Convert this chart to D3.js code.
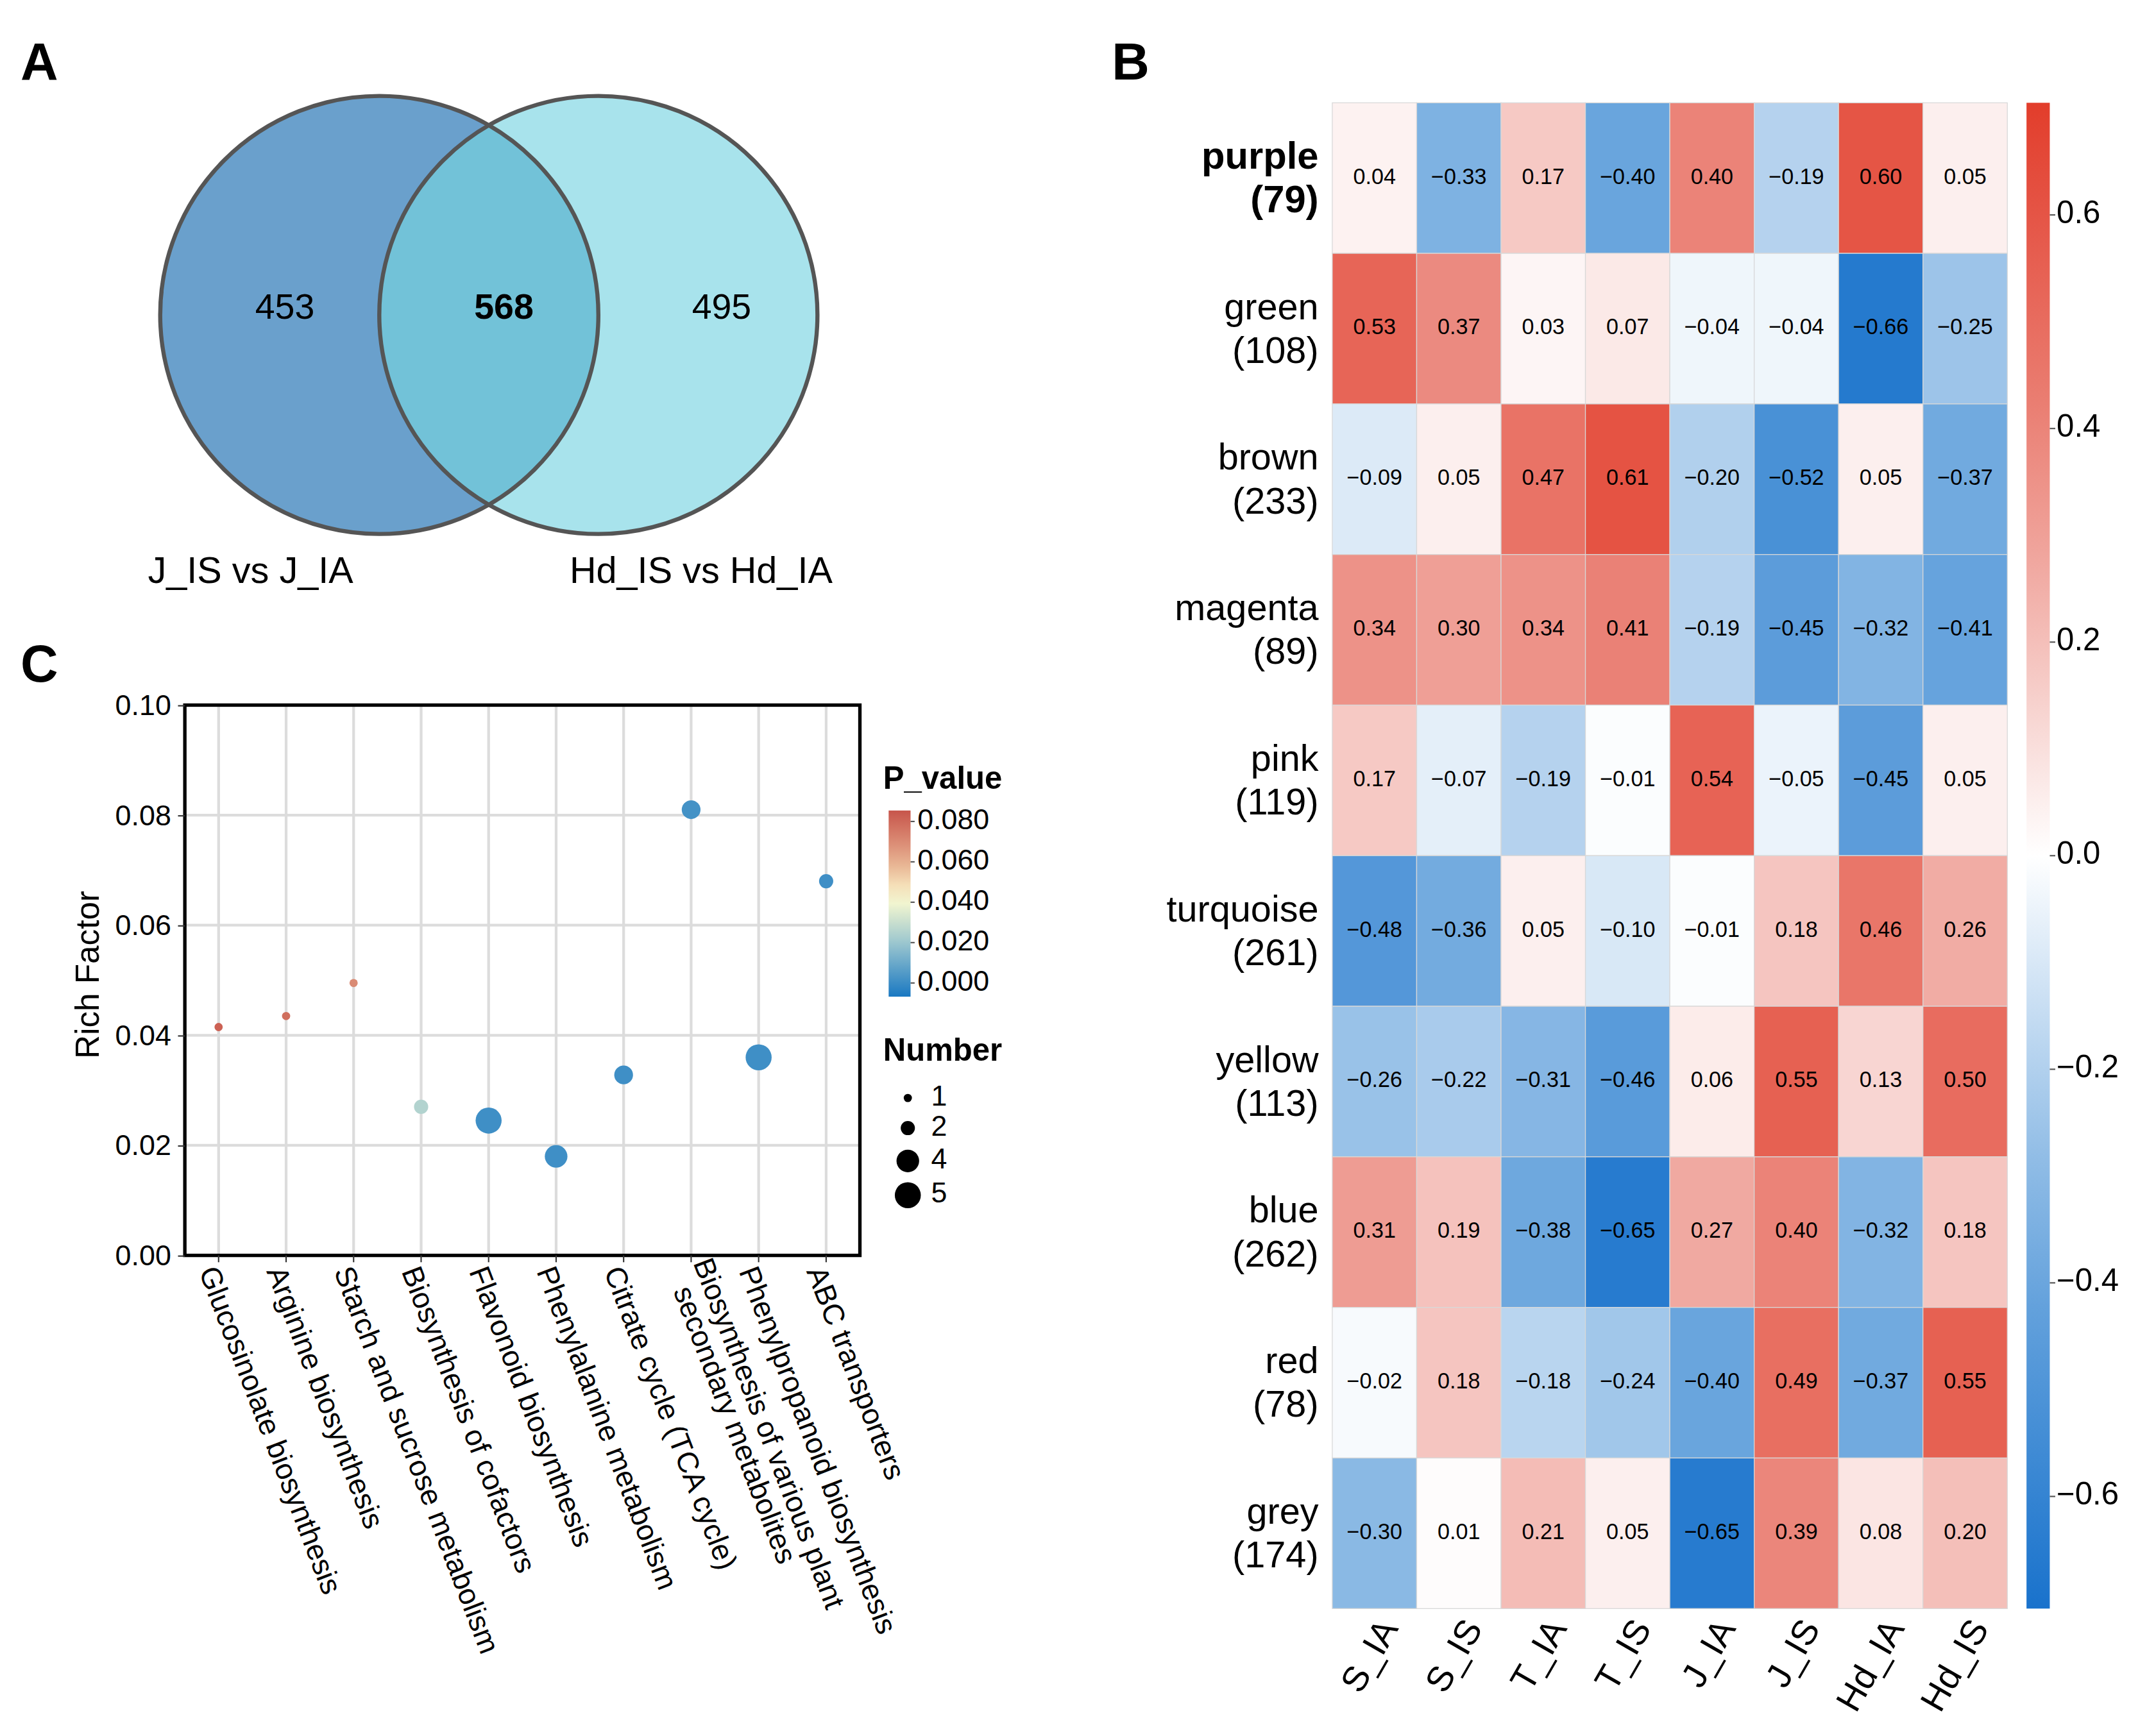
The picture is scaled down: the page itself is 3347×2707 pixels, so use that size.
<!DOCTYPE html>
<html><head><meta charset="utf-8">
<script src="https://cdn.jsdelivr.net/npm/d3@7"></script>
<style>body{margin:0;background:#fff}text{font-family:"Liberation Sans",Arial,sans-serif}</style>
</head><body>
<svg id="fig" width="3347" height="2707" viewBox="0 0 1568 1268"></svg>
<script>
// Panel A
const vennSets = ['J_IS vs J_IA', 'Hd_IS vs Hd_IA'];
const vennCounts = [453, 568, 495];

// Panel B
const modules = ['purple', 'green', 'brown', 'magenta', 'pink', 'turquoise', 'yellow', 'blue', 'red', 'grey'];
const moduleSizes = [79, 108, 233, 89, 119, 261, 113, 262, 78, 174];
const samples = ['S_IA', 'S_IS', 'T_IA', 'T_IS', 'J_IA', 'J_IS', 'Hd_IA', 'Hd_IS'];
const corr = [
  [0.04, -0.33, 0.17, -0.40, 0.40, -0.19, 0.60, 0.05],
  [0.53, 0.37, 0.03, 0.07, -0.04, -0.04, -0.66, -0.25],
  [-0.09, 0.05, 0.47, 0.61, -0.20, -0.52, 0.05, -0.37],
  [0.34, 0.30, 0.34, 0.41, -0.19, -0.45, -0.32, -0.41],
  [0.17, -0.07, -0.19, -0.01, 0.54, -0.05, -0.45, 0.05],
  [-0.48, -0.36, 0.05, -0.10, -0.01, 0.18, 0.46, 0.26],
  [-0.26, -0.22, -0.31, -0.46, 0.06, 0.55, 0.13, 0.50],
  [0.31, 0.19, -0.38, -0.65, 0.27, 0.40, -0.32, 0.18],
  [-0.02, 0.18, -0.18, -0.24, -0.40, 0.49, -0.37, 0.55],
  [-0.30, 0.01, 0.21, 0.05, -0.65, 0.39, 0.08, 0.20]
];
const corrTicks = [0.6, 0.4, 0.2, 0.0, -0.2, -0.4, -0.6];

// Panel C
const pathways = ['Glucosinolate biosynthesis', 'Arginine biosynthesis', 'Starch and sucrose metabolism',
  'Biosynthesis of cofactors', 'Flavonoid biosynthesis', 'Phenylalanine metabolism',
  'Citrate cycle (TCA cycle)', 'Biosynthesis of various plant|secondary metabolites',
  'Phenylpropanoid biosynthesis', 'ABC transporters'];
const richFactor = [0.0415, 0.0435, 0.0495, 0.027, 0.0245, 0.018, 0.0328, 0.081, 0.036, 0.068];
const pValue = [0.082, 0.078, 0.070, 0.025, 0.001, 0.001, 0.001, 0.002, 0.001, 0.001];
const geneNumber = [1, 1, 1, 2, 5, 4, 3, 3, 5, 2];
const pTicks = [0.08, 0.06, 0.04, 0.02, 0.0];
const numberLegend = [1, 2, 4, 5];

const svg = d3.select('#fig');
const fmtMinus = v => d3.format('.1f')(v).replace('-', '\u2212');

// panel letters
[['A', 15, 58], ['B', 812, 58], ['C', 15, 498]].forEach(([t, x, y]) =>
  svg.append('text').attr('x', x).attr('y', y).attr('font-size', 38).attr('font-weight', 'bold').text(t));

// ---- A: Venn ----
const venn = svg.append('g');
venn.append('circle').attr('cx', 277).attr('cy', 230).attr('r', 160).attr('fill', '#6aa0cc');
venn.append('circle').attr('cx', 437).attr('cy', 230).attr('r', 160).attr('fill', '#a8e3ec');
venn.append('clipPath').attr('id', 'clipL').append('circle').attr('cx', 277).attr('cy', 230).attr('r', 160);
venn.append('circle').attr('cx', 437).attr('cy', 230).attr('r', 160).attr('fill', '#72c2d8').attr('clip-path', 'url(#clipL)');
[277, 437].forEach(cx => venn.append('circle').attr('cx', cx).attr('cy', 230).attr('r', 160)
  .attr('fill', 'none').attr('stroke', '#555').attr('stroke-width', 3));
[[208, 0], [368, 1], [527, 2]].forEach(([x, i]) => venn.append('text').attr('x', x).attr('y', 226)
  .attr('text-anchor', 'middle').attr('dominant-baseline', 'middle').attr('font-size', 26)
  .attr('font-weight', i === 1 ? 'bold' : 'normal').text(vennCounts[i]));
[[183, 0], [512, 1]].forEach(([x, i]) => venn.append('text').attr('x', x).attr('y', 426)
  .attr('text-anchor', 'middle').attr('font-size', 27).text(vennSets[i]));

// ---- B: heatmap ----
const hx = d3.scaleBand().domain(samples).range([973, 1466]);
const hy = d3.scaleBand().domain(modules).range([75, 1175]);
const hcol = d3.scaleLinear().domain([-0.7, -0.35, 0, 0.35, 0.7])
  .range(['#1a73cc', '#76ade0', '#ffffff', '#ec8f85', '#e23e2c']);
const hm = svg.append('g');
modules.forEach((m, i) => samples.forEach((s, j) => {
  hm.append('rect').attr('x', hx(s)).attr('y', hy(m)).attr('width', hx.bandwidth()).attr('height', hy.bandwidth())
    .attr('fill', hcol(corr[i][j])).attr('stroke', '#d8d8d8').attr('stroke-width', 0.6);
  hm.append('text').attr('x', hx(s) + hx.bandwidth() / 2).attr('y', hy(m) + hy.bandwidth() / 2)
    .attr('text-anchor', 'middle').attr('dominant-baseline', 'middle').attr('font-size', 16)
    .attr('font-family', '"Liberation Sans Narrow","Liberation Sans",Arial,sans-serif')
    .text(d3.format('.2f')(corr[i][j]).replace('-', '\u2212'));
}));
modules.forEach((m, i) => {
  const t = hm.append('text').attr('text-anchor', 'end').attr('font-size', i === 0 ? 28 : 27)
    .attr('font-weight', i === 0 ? 'bold' : 'normal');
  t.append('tspan').attr('x', 963).attr('y', hy(m) + hy.bandwidth() / 2 - 7).text(m);
  t.append('tspan').attr('x', 963).attr('y', hy(m) + hy.bandwidth() / 2 + 25).text('(' + moduleSizes[i] + ')');
});
samples.forEach(s => hm.append('text')
  .attr('transform', `translate(${hx(s) + hx.bandwidth() / 2 + 12},${1186}) rotate(-60)`)
  .attr('text-anchor', 'end').attr('dominant-baseline', 'middle').attr('font-size', 26).text(s));
// colorbar
const cb = d3.scaleLinear().domain([-0.705, 0.705]).range([1175, 75]);
const grad = svg.append('defs').append('linearGradient').attr('id', 'gB').attr('x1', 0).attr('x2', 0).attr('y1', 1).attr('y2', 0);
d3.range(0, 1.0001, 0.1).forEach(t => grad.append('stop').attr('offset', t).attr('stop-color', hcol(-0.705 + t * 1.41)));
hm.append('rect').attr('x', 1480).attr('y', 75).attr('width', 17).attr('height', 1100).attr('fill', 'url(#gB)');
corrTicks.forEach(v => {
  hm.append('line').attr('x1', 1497).attr('x2', 1501).attr('y1', cb(v)).attr('y2', cb(v)).attr('stroke', '#555');
  hm.append('text').attr('x', 1502).attr('y', cb(v)).attr('dominant-baseline', 'middle').attr('font-size', 23).text(fmtMinus(v));
});

// ---- C: bubble plot ----
const cx = d3.scaleBand().domain(pathways).range([135, 628]);
const cy = d3.scaleLinear().domain([0, 0.1]).range([917, 515]);
const pcol = d3.scaleLinear().domain([0, 0.02, 0.042, 0.06, 0.085])
  .range(['#3a8cc5', '#9cc7cf', '#fdfbd0', '#e6ae8e', '#c8564c']);
const rad = d3.scaleSqrt().domain([1, 5]).range([3, 9.5]);
const c = svg.append('g');
cy.ticks(5).forEach(v => c.append('line').attr('x1', 135).attr('x2', 628).attr('y1', cy(v)).attr('y2', cy(v))
  .attr('stroke', '#dcdcdc').attr('stroke-width', 2));
pathways.forEach(p => c.append('line').attr('x1', cx(p) + cx.bandwidth() / 2).attr('x2', cx(p) + cx.bandwidth() / 2)
  .attr('y1', 515).attr('y2', 917).attr('stroke', '#dcdcdc').attr('stroke-width', 2));
pathways.forEach((p, i) => c.append('circle').attr('cx', cx(p) + cx.bandwidth() / 2).attr('cy', cy(richFactor[i]))
  .attr('r', rad(geneNumber[i])).attr('fill', pcol(pValue[i])));
c.append('rect').attr('x', 135).attr('y', 515).attr('width', 493).attr('height', 402)
  .attr('fill', 'none').attr('stroke', '#000').attr('stroke-width', 2.5);
const yAx = c.append('g').attr('transform', 'translate(135,0)')
  .call(d3.axisLeft(cy).ticks(5).tickFormat(d3.format('.2f')).tickSize(5).tickSizeOuter(0));
yAx.select('.domain').remove();
yAx.selectAll('text').attr('font-size', 21).attr('fill', '#000').attr('dx', -2);
yAx.selectAll('line').attr('stroke', '#333');
c.append('text').attr('transform', 'translate(72,712) rotate(-90)').attr('text-anchor', 'middle')
  .attr('font-size', 24).text('Rich Factor');
pathways.forEach(p => {
  const x0 = cx(p) + cx.bandwidth() / 2;
  c.append('line').attr('x1', x0).attr('x2', x0).attr('y1', 917).attr('y2', 922).attr('stroke', '#333');
  const t = c.append('text').attr('transform', `translate(${x0 - 8},${926}) rotate(69)`).attr('font-size', 21.5);
  const parts = p.split('|');
  if (parts.length === 2) {
    t.append('tspan').attr('x', 0).attr('y', -10).text(parts[0]);
    t.append('tspan').attr('x', 0).attr('y', 11).attr('dx', 14).text(parts[1]);
  } else t.append('tspan').attr('x', 0).attr('y', 7).text(p);
});
// legends
c.append('text').attr('x', 645).attr('y', 576).attr('font-size', 23).attr('font-weight', 'bold').text('P_value');
const pl = d3.scaleLinear().domain([0, 0.08]).range([718, 600]);
const gradC = svg.select('defs').append('linearGradient').attr('id', 'gC').attr('x1', 0).attr('x2', 0).attr('y1', 1).attr('y2', 0);
d3.range(0, 1.0001, 0.1).forEach(t => gradC.append('stop').attr('offset', t).attr('stop-color', pcol(pl.invert(728 - t * 136))));
c.append('rect').attr('x', 649).attr('y', 592).attr('width', 16).attr('height', 136).attr('fill', 'url(#gC)');
pTicks.forEach(v => {
  c.append('line').attr('x1', 665).attr('x2', 668).attr('y1', pl(v)).attr('y2', pl(v)).attr('stroke', '#555');
  c.append('text').attr('x', 670).attr('y', pl(v)).attr('dominant-baseline', 'middle').attr('font-size', 21).text(d3.format('.3f')(v));
});
c.append('text').attr('x', 645).attr('y', 775).attr('font-size', 23).attr('font-weight', 'bold').text('Number');
numberLegend.forEach((n, i) => {
  const y = [802, 824, 848, 873][i];
  c.append('circle').attr('cx', 663).attr('cy', y).attr('r', rad(n)).attr('fill', '#000');
  c.append('text').attr('x', 680).attr('y', y).attr('dominant-baseline', 'middle').attr('font-size', 21).text(n);
});
</script>
</body></html>
